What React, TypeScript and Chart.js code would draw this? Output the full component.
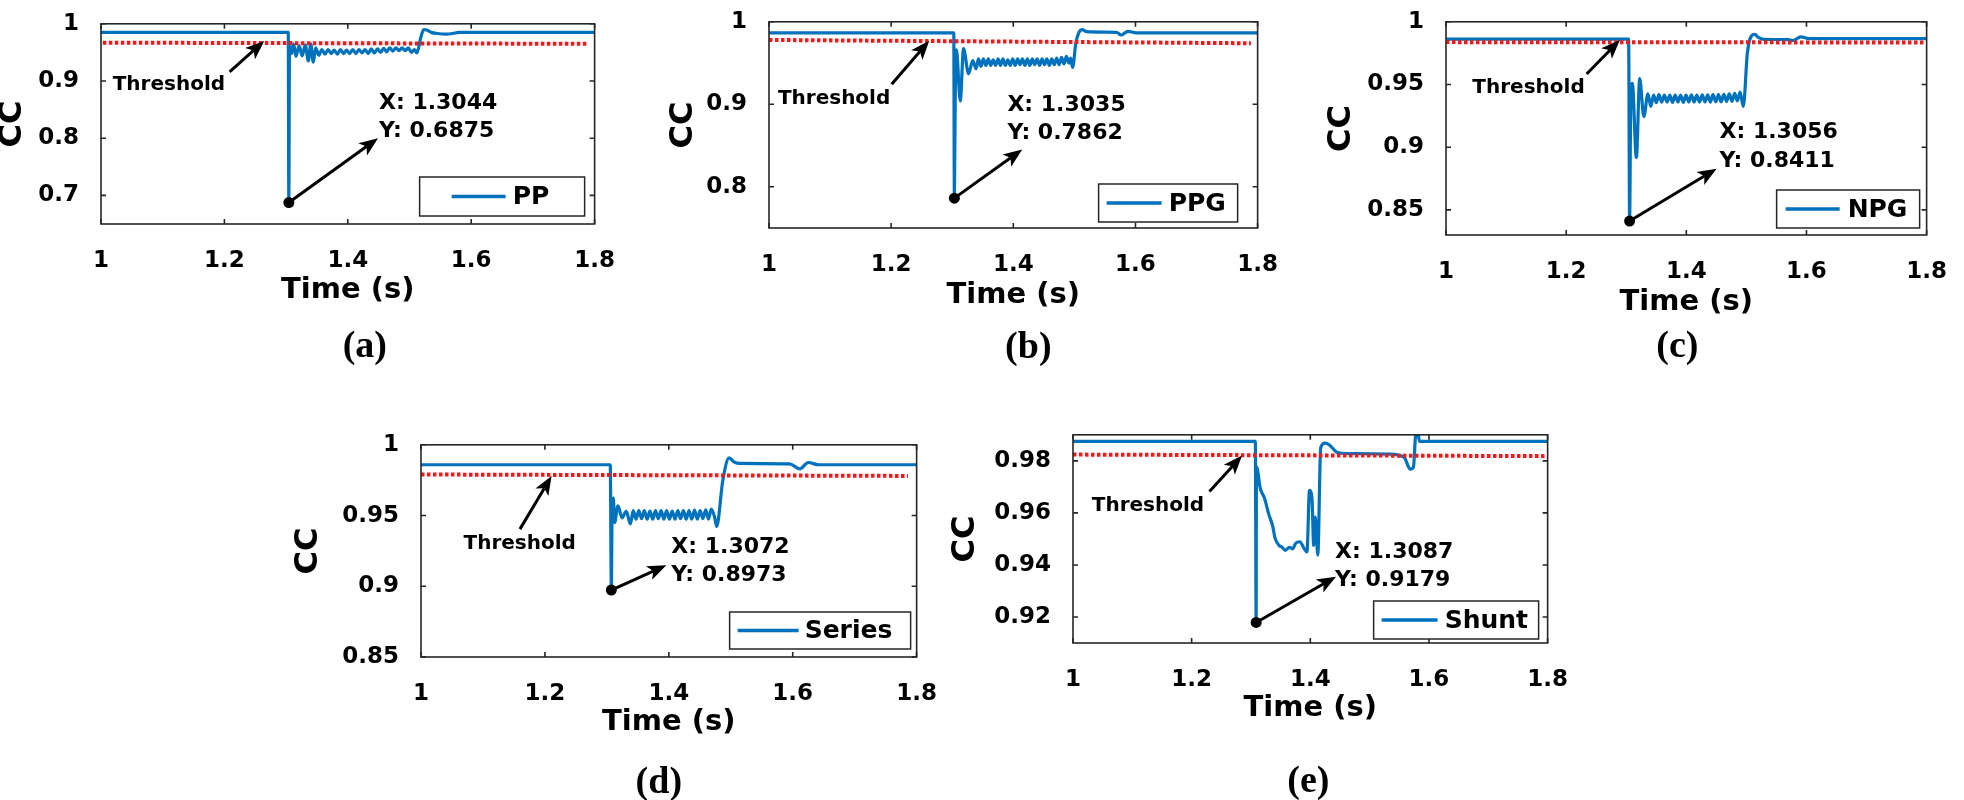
import React, { useEffect, useRef } from 'react';
import { Chart, registerables } from 'chart.js';

Chart.register(...registerables);

// ---------------- data ----------------
const xTickValues = [1, 1.2, 1.4, 1.6, 1.8];
const xTickLabels = ['1', '1.2', '1.4', '1.6', '1.8'];

// (a) PP
const ppTime = [
  1.000, 1.300, 1.3035, 1.3044, 1.3055, 1.309, 1.312, 1.316, 1.321, 1.326,
  1.331, 1.336, 1.340, 1.344, 1.348, 1.353, 1.358, 1.363, 1.368, 1.373,
  1.378, 1.383, 1.388, 1.393, 1.398, 1.403, 1.408, 1.413, 1.418, 1.423,
  1.428, 1.433, 1.438, 1.443, 1.448, 1.453, 1.458, 1.463, 1.468, 1.473,
  1.478, 1.483, 1.488, 1.493, 1.498, 1.503, 1.508, 1.512, 1.518, 1.523,
  1.528, 1.535, 1.545, 1.560, 1.570, 1.580, 1.800,
];
const ppCC = [
  0.985, 0.985, 0.985, 0.6875, 0.962, 0.948, 0.965, 0.943, 0.962, 0.944,
  0.963, 0.935, 0.965, 0.933, 0.958, 0.945, 0.955, 0.947, 0.955, 0.948,
  0.954, 0.947, 0.955, 0.948, 0.954, 0.948, 0.955, 0.948, 0.955, 0.949,
  0.955, 0.948, 0.956, 0.949, 0.956, 0.950, 0.957, 0.951, 0.958, 0.952,
  0.958, 0.953, 0.958, 0.953, 0.958, 0.950, 0.955, 0.949, 0.975, 0.990,
  0.989, 0.985, 0.983, 0.982, 0.983, 0.985, 0.985,
];
const ppThresholdTime = [1.003, 1.789];
const ppThresholdCC = [0.967, 0.965];
const ppTip = [1.3044, 0.6875];
const ppYTicks = [0.7, 0.8, 0.9, 1];
const ppYTickLabels = ['0.7', '0.8', '0.9', '1'];

// (b) PPG
const ppgTime = [
  1.000, 1.300, 1.3025, 1.3035, 1.3055, 1.3069, 1.3131, 1.3185, 1.3267, 1.3335,
  1.339, 1.343, 1.347, 1.351, 1.355, 1.359, 1.363, 1.367, 1.371, 1.375,
  1.379, 1.383, 1.387, 1.391, 1.395, 1.399, 1.403, 1.407, 1.411, 1.415,
  1.419, 1.423, 1.427, 1.431, 1.435, 1.439, 1.443, 1.447, 1.451, 1.455,
  1.459, 1.463, 1.467, 1.471, 1.475, 1.479, 1.483, 1.487, 1.491, 1.494,
  1.497, 1.5025, 1.508, 1.5127, 1.520, 1.550, 1.570, 1.576, 1.5877, 1.601, 1.800,
];
const ppgCC = [
  0.9866, 0.9866, 0.9866, 0.7862, 0.955, 0.966, 0.904, 0.9675, 0.937, 0.953,
  0.943, 0.955, 0.946, 0.955, 0.947, 0.955, 0.947, 0.954, 0.947, 0.955,
  0.947, 0.955, 0.947, 0.954, 0.947, 0.955, 0.947, 0.955, 0.948, 0.955,
  0.947, 0.955, 0.947, 0.955, 0.948, 0.955, 0.947, 0.955, 0.948, 0.955,
  0.947, 0.955, 0.948, 0.956, 0.948, 0.957, 0.949, 0.958, 0.950, 0.956,
  0.9446, 0.975, 0.988, 0.9904, 0.988, 0.9875, 0.987, 0.984, 0.9885, 0.9866, 0.9866,
];
const ppgThresholdTime = [1.0, 1.789];
const ppgThresholdCC = [0.978, 0.974];
const ppgTip = [1.3035, 0.7862];
const ppgYTicks = [0.8, 0.9, 1];
const ppgYTickLabels = ['0.8', '0.9', '1'];

// (c) NPG
const npgTime = [
  1.000, 1.304, 1.3056, 1.3075, 1.3101, 1.3169, 1.3224, 1.3293, 1.3361, 1.3409,
  1.3455, 1.350, 1.3545, 1.359, 1.3635, 1.368, 1.3725, 1.377, 1.3815, 1.386,
  1.3905, 1.395, 1.3995, 1.404, 1.4085, 1.413, 1.4175, 1.422, 1.4265, 1.431,
  1.4355, 1.440, 1.4445, 1.449, 1.4535, 1.458, 1.4625, 1.467, 1.4715, 1.476,
  1.4805, 1.485, 1.4895, 1.4948, 1.5016, 1.508, 1.514, 1.520, 1.529, 1.570,
  1.5769, 1.5907, 1.6044, 1.800,
];
const npgCC = [
  0.9862, 0.9862, 0.8411, 0.935, 0.951, 0.8917, 0.9547, 0.9244, 0.9426, 0.9325,
  0.9415, 0.9355, 0.942, 0.936, 0.9415, 0.936, 0.9415, 0.9358, 0.9415, 0.936,
  0.9415, 0.9358, 0.9415, 0.936, 0.9418, 0.936, 0.9415, 0.936, 0.9418, 0.9362,
  0.9418, 0.936, 0.942, 0.9362, 0.942, 0.9362, 0.9422, 0.9365, 0.9425, 0.9365,
  0.943, 0.937, 0.944, 0.9325, 0.975, 0.9885, 0.9899, 0.9875, 0.986, 0.9858,
  0.985, 0.988, 0.9866, 0.9866,
];
const npgThresholdTime = [1.0, 1.8];
const npgThresholdCC = [0.9838, 0.9835];
const npgTip = [1.3056, 0.8411];
const npgYTicks = [0.85, 0.9, 0.95, 1];
const npgYTickLabels = ['0.85', '0.9', '0.95', '1'];

// (d) Series
const seriesTime = [
  1.000, 1.3055, 1.3072, 1.3085, 1.3104, 1.3125, 1.3179, 1.3246, 1.3313, 1.338,
  1.3425, 1.347, 1.3515, 1.356, 1.3605, 1.365, 1.3695, 1.374, 1.3785, 1.383,
  1.3875, 1.392, 1.3965, 1.401, 1.4055, 1.410, 1.4145, 1.419, 1.4235, 1.428,
  1.4325, 1.437, 1.4415, 1.446, 1.4505, 1.455, 1.4595, 1.464, 1.4685, 1.4738,
  1.4772, 1.4872, 1.4973, 1.505, 1.5142, 1.5948, 1.6116, 1.625, 1.6418, 1.800,
];
const seriesCC = [
  0.9859, 0.9859, 0.8973, 0.955, 0.9623, 0.9451, 0.9569, 0.9484, 0.9529, 0.944,
  0.9535, 0.9475, 0.9535, 0.9478, 0.9535, 0.9475, 0.9532, 0.9475, 0.9535, 0.9478,
  0.9535, 0.9475, 0.9535, 0.9475, 0.9532, 0.9475, 0.9535, 0.9478, 0.9535, 0.9475,
  0.9535, 0.9475, 0.9538, 0.9475, 0.9535, 0.9478, 0.954, 0.9475, 0.9545, 0.949,
  0.9422, 0.975, 0.9908, 0.988, 0.9868, 0.9865, 0.983, 0.9875, 0.9859, 0.9859,
];
const seriesThresholdTime = [1.0, 1.786];
const seriesThresholdCC = [0.979, 0.978];
const seriesTip = [1.3072, 0.8973];
const seriesYTicks = [0.85, 0.9, 0.95, 1];
const seriesYTickLabels = ['0.85', '0.9', '0.95', '1'];

// (e) Shunt
const shuntTime = [
  1.000, 1.3073, 1.3087, 1.3092, 1.3158, 1.3228, 1.3298, 1.3368, 1.3403, 1.3473,
  1.3525, 1.3578, 1.3648, 1.3700, 1.3755, 1.3825, 1.3895, 1.3944, 1.3986, 1.4028,
  1.4057, 1.4084, 1.4126, 1.4175, 1.4245, 1.4315, 1.4456, 1.4632, 1.5333, 1.5579,
  1.5684, 1.5739, 1.5775, 1.581, 1.5839, 1.800,
];
const shuntCC = [
  0.9875, 0.9875, 0.9179, 0.9777, 0.9693, 0.9656, 0.9596, 0.9547, 0.9505, 0.9475,
  0.9468, 0.9456, 0.9468, 0.9462, 0.9484, 0.9489, 0.9463, 0.945, 0.9687, 0.9656,
  0.9475, 0.9584, 0.9438, 0.985, 0.9868, 0.9862, 0.9832, 0.9828, 0.9826, 0.9814,
  0.9768, 0.9777, 0.9899, 0.9915, 0.9875, 0.9875,
];
const shuntThresholdTime = [1.0, 1.8];
const shuntThresholdCC = [0.9824, 0.9818];
const shuntTip = [1.3087, 0.9179];
const shuntYTicks = [0.92, 0.94, 0.96, 0.98];
const shuntYTickLabels = ['0.92', '0.94', '0.96', '0.98'];

// ---------------- layout / style ----------------
const FONT = '"DejaVu Sans", "Liberation Sans", Arial, sans-serif';
const SERIF = '"Liberation Serif", "Times New Roman", serif';
const BLUE = '#0072BD';
const RED = '#f01a1a';
const AXIS = '#262626';
const YW = 140; // width of y-axis area
const PT = 16;
const XH = 90;
const PB = 90;
const XTITLE_SIZE = 29;
const YTITLE_SIZE = 32;

type PanelDef = {
  key: string;
  label: string;
  legend: string;
  time: number[];
  cc: number[];
  thrT: number[];
  thrV: number[];
  tip: number[];
  yMin: number;
  yMax: number;
  yTicks: number[];
  yTickLabels: string[];
  box: { l: number; t: number; r: number; b: number };
  pr: number;
  yTitleOff: number;
  xTitleOff: number;
  lab: { dx: number; dy: number };
  thText: number[];
  thArrow: number[];
  tipTextX: number;
  tipTextY: number[];
  tipArrowEnd: number[];
  lg: { r: number; b: number; w: number; h: number; ls: number; le: number; tx: number };
};

const panels: PanelDef[] = [
  {
    key: 'a', label: '(a)', legend: 'PP', time: ppTime, cc: ppCC, thrT: ppThresholdTime, thrV: ppThresholdCC,
    tip: ppTip, yMin: 0.65, yMax: 1.0, yTicks: ppYTicks, yTickLabels: ppYTickLabels,
    box: { l: 101, t: 12, r: 600, b: 224 }, pr: 30, yTitleOff: 88, xTitleOff: 66, lab: { dx: 17, dy: 123 },
    thText: [1.019, 0.893], thArrow: [1.2084, 0.9158, 1.2645, 0.97],
    tipTextX: 1.4505, tipTextY: [0.8613, 0.8118], tipArrowEnd: [1.449, 0.8],
    lg: { r: 10, b: 8, w: 165, h: 39, ls: 32, le: 86, tx: 93 },
  },
  {
    key: 'b', label: '(b)', legend: 'PPG', time: ppgTime, cc: ppgCC, thrT: ppgThresholdTime, thrV: ppgThresholdCC,
    tip: ppgTip, yMin: 0.75, yMax: 1.0, yTicks: ppgYTicks, yTickLabels: ppgYTickLabels,
    box: { l: 769, t: 10, r: 1263, b: 228 }, pr: 30, yTitleOff: 85, xTitleOff: 67, lab: { dx: 15, dy: 120 },
    thText: [1.0146, 0.9071], thArrow: [1.2008, 0.9243, 1.2623, 0.977],
    tipTextX: 1.3903, tipTextY: [0.8991, 0.8647], tipArrowEnd: [1.4146, 0.8452],
    lg: { r: 20, b: 6, w: 139, h: 38, ls: 8, le: 63, tx: 70 },
  },
  {
    key: 'c', label: '(c)', legend: 'NPG', time: npgTime, cc: npgCC, thrT: npgThresholdTime, thrV: npgThresholdCC,
    tip: npgTip, yMin: 0.83, yMax: 1.0, yTicks: npgYTicks, yTickLabels: npgYTickLabels,
    box: { l: 1446, t: 10, r: 1938, b: 235 }, pr: 24, yTitleOff: 104, xTitleOff: 67, lab: { dx: -9, dy: 112 },
    thText: [1.0439, 0.9471], thArrow: [1.2341, 0.9584, 1.2894, 0.9855],
    tipTextX: 1.4553, tipTextY: [0.9116, 0.8889], tipArrowEnd: [1.4504, 0.8829],
    lg: { r: 7, b: 7, w: 143, h: 38, ls: 9, le: 63, tx: 71 },
  },
  {
    key: 'd', label: '(d)', legend: 'Series', time: seriesTime, cc: seriesCC, thrT: seriesThresholdTime, thrV: seriesThresholdCC,
    tip: seriesTip, yMin: 0.85, yMax: 1.0, yTicks: seriesYTicks, yTickLabels: seriesYTickLabels,
    box: { l: 421, t: 433, r: 922, b: 657 }, pr: 30, yTitleOff: 112, xTitleOff: 65, lab: { dx: -10, dy: 126 },
    thText: [1.0687, 0.9303], thArrow: [1.1597, 0.9404, 1.2108, 0.978],
    tipTextX: 1.404, tipTextY: [0.9277, 0.9076], tipArrowEnd: [1.396, 0.9149],
    lg: { r: 6, b: 8, w: 181, h: 37, ls: 8, le: 69, tx: 75 },
  },
  {
    key: 'e', label: '(e)', legend: 'Shunt', time: shuntTime, cc: shuntCC, thrT: shuntThresholdTime, thrV: shuntThresholdCC,
    tip: shuntTip, yMin: 0.91, yMax: 0.99, yTicks: shuntYTicks, yTickLabels: shuntYTickLabels,
    box: { l: 1073, t: 423, r: 1553, b: 643 }, pr: 30, yTitleOff: 107, xTitleOff: 65, lab: { dx: -2, dy: 139 },
    thText: [1.0317, 0.9627], thArrow: [1.23, 0.9682, 1.285, 0.982],
    tipTextX: 1.4417, tipTextY: [0.9449, 0.934], tipArrowEnd: [1.4433, 0.9355],
    lg: { r: 9, b: 4, w: 165, h: 38, ls: 8, le: 64, tx: 71 },
  },
];

function drawArrow(ctx: CanvasRenderingContext2D, x0: number, y0: number, x1: number, y1: number) {
  const ang = Math.atan2(y1 - y0, x1 - x0);
  const HL = 19;
  const HW = 7.5;
  const c = Math.cos(ang);
  const s = Math.sin(ang);
  const bx = x1 - HL * c;
  const by = y1 - HL * s;
  const nx = x1 - HL * 0.75 * c;
  const ny = y1 - HL * 0.75 * s;
  ctx.strokeStyle = '#000';
  ctx.fillStyle = '#000';
  ctx.lineWidth = 3;
  ctx.beginPath();
  ctx.moveTo(x0, y0);
  ctx.lineTo(nx, ny);
  ctx.stroke();
  ctx.beginPath();
  ctx.moveTo(x1, y1);
  ctx.lineTo(bx + HW * s, by - HW * c);
  ctx.lineTo(nx, ny);
  ctx.lineTo(bx - HW * s, by + HW * c);
  ctx.closePath();
  ctx.fill();
}

function makeConfig(p: PanelDef): any {
  const mainData = p.time.map((t, i) => ({ x: t, y: p.cc[i] }));
  const thrData = p.thrT.map((t, i) => ({ x: t, y: p.thrV[i] }));
  const tipData = [{ x: p.tip[0], y: p.tip[1] }];

  const decor = {
    id: 'decor',
    afterDatasetsDraw(chart: any) {
      const { ctx, chartArea: a, scales } = chart;
      const xs = scales.x;
      const ys = scales.y;
      const X = (v: number) => xs.getPixelForValue(v);
      const Y = (v: number) => ys.getPixelForValue(v);
      ctx.save();

      // axes box
      ctx.strokeStyle = AXIS;
      ctx.lineWidth = 1.6;
      ctx.strokeRect(a.left, a.top, a.right - a.left, a.bottom - a.top);

      // inward ticks on all sides
      const TL = 5;
      ctx.beginPath();
      for (const v of xTickValues) {
        const px = X(v);
        ctx.moveTo(px, a.bottom);
        ctx.lineTo(px, a.bottom - TL);
        ctx.moveTo(px, a.top);
        ctx.lineTo(px, a.top + TL);
      }
      for (const v of p.yTicks) {
        const py = Y(v);
        ctx.moveTo(a.left, py);
        ctx.lineTo(a.left + TL, py);
        ctx.moveTo(a.right, py);
        ctx.lineTo(a.right - TL, py);
      }
      ctx.stroke();

      // annotations
      ctx.fillStyle = '#000';
      ctx.textBaseline = 'middle';
      ctx.textAlign = 'left';
      ctx.font = `bold 20px ${FONT}`;
      ctx.fillText('Threshold', X(p.thText[0]), Y(p.thText[1]));
      drawArrow(ctx, X(p.thArrow[0]), Y(p.thArrow[1]), X(p.thArrow[2]), Y(p.thArrow[3]));

      ctx.fillStyle = '#000';
      ctx.font = `bold 22px ${FONT}`;
      ctx.fillText('X: ' + p.tip[0].toFixed(4), X(p.tipTextX), Y(p.tipTextY[0]));
      ctx.fillText('Y: ' + p.tip[1].toFixed(4), X(p.tipTextX), Y(p.tipTextY[1]));
      drawArrow(ctx, X(p.tip[0]), Y(p.tip[1]), X(p.tipArrowEnd[0]), Y(p.tipArrowEnd[1]));

      // legend
      const lg = p.lg;
      const bx = a.right - lg.r - lg.w;
      const by = a.bottom - lg.b - lg.h;
      ctx.fillStyle = '#fff';
      ctx.fillRect(bx, by, lg.w, lg.h);
      ctx.strokeStyle = AXIS;
      ctx.lineWidth = 1.5;
      ctx.strokeRect(bx, by, lg.w, lg.h);
      const my = by + lg.h / 2;
      ctx.strokeStyle = BLUE;
      ctx.lineWidth = 3.5;
      ctx.beginPath();
      ctx.moveTo(bx + lg.ls, my);
      ctx.lineTo(bx + lg.le, my);
      ctx.stroke();
      ctx.fillStyle = '#000';
      ctx.font = `bold 25px ${FONT}`;
      ctx.fillText(p.legend, bx + lg.tx, my + 1);

      // panel label
      ctx.font = `bold 38px ${SERIF}`;
      ctx.textAlign = 'center';
      ctx.fillText(p.label, (a.left + a.right) / 2 + p.lab.dx, a.bottom + p.lab.dy);

      ctx.restore();
    },
  };

  return {
    type: 'line',
    data: {
      datasets: [
        {
          label: 'tip',
          data: tipData,
          showLine: false,
          pointRadius: 5.5,
          pointBackgroundColor: '#000',
          pointBorderColor: '#000',
          pointBorderWidth: 0,
          order: 0,
        },
        {
          label: 'Threshold',
          data: thrData,
          borderColor: RED,
          borderWidth: 4,
          borderDash: [3.5, 2.5],
          pointRadius: 0,
          fill: false,
          order: 1,
        },
        {
          label: p.legend,
          data: mainData,
          borderColor: BLUE,
          borderWidth: 3.2,
          pointRadius: 0,
          fill: false,
          cubicInterpolationMode: 'monotone',
          order: 2,
        },
      ],
    },
    options: {
      animation: false,
      responsive: false,
      events: [],
      layout: { padding: { left: 0, top: PT, right: p.pr, bottom: PB } },
      plugins: {
        legend: { display: false },
        tooltip: { enabled: false },
        title: { display: false },
      },
      scales: {
        x: {
          type: 'linear',
          min: 1,
          max: 1.8,
          afterBuildTicks: (s: any) => {
            s.ticks = xTickValues.map((v) => ({ value: v }));
          },
          afterFit: (s: any) => {
            s.height = XH;
          },
          grid: { display: false },
          border: { display: false },
          ticks: {
            font: { family: FONT, size: 23, weight: 'bold' },
            color: '#000',
            padding: 15,
            maxRotation: 0,
            autoSkip: false,
            callback: (_v: any, i: number) => xTickLabels[i],
          },
          title: {
            display: true,
            text: 'Time (s)',
            color: '#000',
            font: { family: FONT, size: XTITLE_SIZE, weight: 'bold' },
            padding: { top: 0, bottom: XH - p.xTitleOff - XTITLE_SIZE * 0.6 },
          },
        },
        y: {
          type: 'linear',
          min: p.yMin,
          max: p.yMax,
          afterBuildTicks: (s: any) => {
            s.ticks = p.yTicks.map((v) => ({ value: v }));
          },
          afterFit: (s: any) => {
            s.width = YW;
          },
          grid: { display: false },
          border: { display: false },
          ticks: {
            font: { family: FONT, size: 23, weight: 'bold' },
            color: '#000',
            padding: 14,
            autoSkip: false,
            callback: (_v: any, i: number) => p.yTickLabels[i],
          },
          title: {
            display: true,
            text: 'CC',
            color: '#000',
            font: { family: FONT, size: YTITLE_SIZE, weight: 'bold' },
            padding: { top: YW - p.yTitleOff - YTITLE_SIZE * 0.6, bottom: 0 },
          },
        },
      },
    },
    plugins: [decor],
  };
}

function Panel({ p }: { p: PanelDef }) {
  const ref = useRef<HTMLCanvasElement | null>(null);
  useEffect(() => {
    if (!ref.current) return;
    const chart = new Chart(ref.current, makeConfig(p));
    return () => chart.destroy();
  }, [p]);
  const cl = p.box.l - YW;
  const ct = p.box.t - PT;
  const cw = YW + (p.box.r - p.box.l) + p.pr;
  const ch = PT + (p.box.b - p.box.t) + XH + PB;
  return (
    <canvas
      ref={ref}
      width={cw}
      height={ch}
      style={{ position: 'absolute', left: cl, top: ct, width: cw, height: ch }}
    />
  );
}

export default function App() {
  useEffect(() => {
    document.body.style.margin = '0';
    document.body.style.background = '#fff';
  }, []);
  return (
    <div style={{ position: 'relative', width: 1964, height: 800, overflow: 'hidden', background: '#fff' }}>
      {panels.map((p) => (
        <Panel key={p.key} p={p} />
      ))}
    </div>
  );
}
